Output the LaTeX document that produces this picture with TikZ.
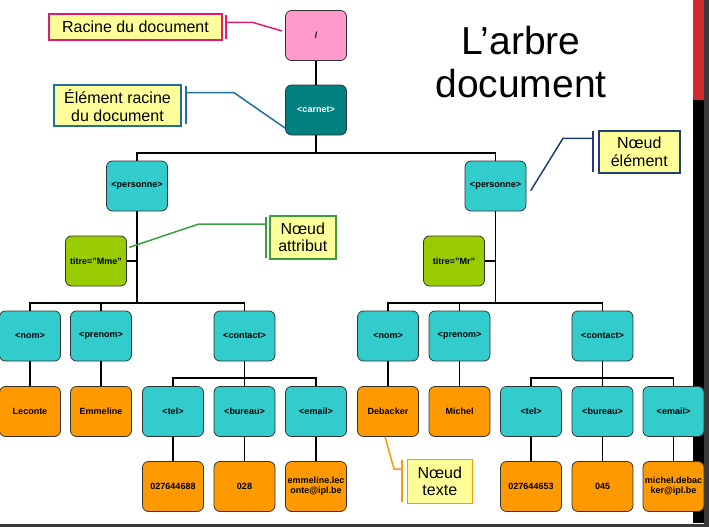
\documentclass[tikz,border=0pt]{standalone}
\usepackage{fontspec}
\setmainfont{Liberation Sans}
\definecolor{pinkfill}{HTML}{FF99CC}
\definecolor{tealfill}{HTML}{008080}
\definecolor{cyanfill}{HTML}{33CCCC}
\definecolor{greenfill}{HTML}{99CC00}
\definecolor{orangefill}{HTML}{FF9900}
\definecolor{yelfill}{HTML}{FFFF99}
\definecolor{cpink}{HTML}{E8196A}
\definecolor{cblue}{HTML}{1F6FA3}
\definecolor{cnavy}{HTML}{1F3D70}
\definecolor{cgreen}{HTML}{3A9F3A}
\definecolor{redbar}{HTML}{D32A2F}
\definecolor{edgec}{HTML}{333333}
\definecolor{frame}{HTML}{3A3A3A}
\begin{document}
\begin{tikzpicture}[x=1pt,y=-1pt,
  tnode/.style={draw=edgec, line width=0.8pt, rounded corners=6pt, minimum width=61pt, minimum height=50pt, inner sep=0pt, align=center, font=\bfseries\fontsize{9}{10}\selectfont},
  elem/.style={tnode, fill=cyanfill},
  attr/.style={tnode, fill=greenfill},
  txt/.style={tnode, fill=orangefill},
  tree/.style={line width=1.7pt, black},
  callout/.style={fill=yelfill, line width=1.6pt, inner sep=0pt, align=center, font=\fontsize{16}{17.5}\selectfont},
  cline/.style={line width=1.5pt}]
\useasboundingbox (0,0) rectangle (709,527);
% frame bars
\fill[redbar] (693,0) rectangle (704,100);
\fill[black] (693,100) rectangle (704,523);
\fill[frame] (704,0) rectangle (709,527);
\fill[frame] (0,524) rectangle (709,527);
% title
\node[align=center, inner sep=0pt, font=\fontsize{39}{43}\selectfont] (title) at (521,62.5) {L’arbre\\document};
% tree nodes
\node[tnode, fill=pinkfill] (root) at (316,35.5) {/};
\node[tnode, fill=tealfill, text=white] (carnet) at (316,110) {<carnet>};
\node[elem] (p1) at (137,186) {<personne>};
\node[elem] (p2) at (495.5,186) {<personne>};
\node[attr] (t1) at (96,261) {titre="Mme"};
\node[attr] (t2) at (454,261) {titre="Mr"};
\node[elem] (nom1) at (30,336) {<nom>};
\node[elem] (pre1) at (101,336) {<prenom>};
\node[elem] (con1) at (244.5,336) {<contact>};
\node[elem] (nom2) at (388,336) {<nom>};
\node[elem] (pre2) at (459.5,336) {<prenom>};
\node[elem] (con2) at (602.5,336) {<contact>};
\node[txt] (lec) at (30,411.5) {Leconte};
\node[txt] (emm) at (101,411.5) {Emmeline};
\node[elem] (tel1) at (173,411.5) {<tel>};
\node[elem] (bur1) at (244.5,411.5) {<bureau>};
\node[elem] (em1) at (316,411.5) {<email>};
\node[txt] (deb) at (388,411.5) {Debacker};
\node[txt] (mic) at (459.5,411.5) {Michel};
\node[elem] (tel2) at (531,411.5) {<tel>};
\node[elem] (bur2) at (602.5,411.5) {<bureau>};
\node[elem] (em2) at (673.5,411.5) {<email>};
\node[txt] (vtel1) at (173,486.5) {027644688};
\node[txt] (vbur1) at (244.5,486.5) {028};
\node[txt] (vem1) at (316,486.5) {emmeline.lec\\onte@ipl.be};
\node[txt] (vtel2) at (531,486.5) {027644653};
\node[txt] (vbur2) at (602.5,486.5) {045};
\node[txt] (vem2) at (673.5,486.5) {michel.debac\\ker@ipl.be};
% connectors
\coordinate (b0) at (316,152.7);
\coordinate (b1) at (137,303);
\coordinate (b2) at (495.5,303);
\coordinate (c1) at (244.5,378);
\coordinate (c2) at (602.5,378);
\draw[tree] (root) -- (carnet);
\draw[tree] (carnet) -- (b0);
\draw[tree] (b0) -| (p1.north);
\draw[tree] (b0) -| (p2.north);
\draw[tree] (p1) -- (b1);
\draw[tree] (p2) -- (b2);
\draw[tree] (t1.east) -- (t1.east -| p1);
\draw[tree] (t2.east) -- (t2.east -| p2);
\draw[tree] (b1) -| (nom1.north);
\draw[tree] (b1) -| (pre1.north);
\draw[tree] (b1) -| (con1.north);
\draw[tree] (b2) -| (nom2.north);
\draw[tree] (b2) -| (pre2.north);
\draw[tree] (b2) -| (con2.north);
\draw[tree] (nom1) -- (lec);
\draw[tree] (pre1) -- (emm);
\draw[tree] (nom2) -- (deb);
\draw[tree] (pre2) -- (mic);
\draw[tree] (con1) -- (c1);
\draw[tree] (con2) -- (c2);
\draw[tree] (c1) -| (tel1.north);
\draw[tree] (c1) -- (bur1.north);
\draw[tree] (c1) -| (em1.north);
\draw[tree] (c2) -| (tel2.north);
\draw[tree] (c2) -- (bur2.north);
\draw[tree] (c2) -| (em2.north);
\draw[tree] (tel1) -- (vtel1);
\draw[tree] (bur1) -- (vbur1);
\draw[tree] (em1) -- (vem1);
\draw[tree] (tel2) -- (vtel2);
\draw[tree] (bur2) -- (vbur2);
\draw[tree] (em2) -- (vem2);
% callouts
\node[callout, draw=cpink, minimum width=173pt, minimum height=26pt] (k1) at (135.5,27) {Racine du document};
\node[callout, draw=cblue, minimum width=127pt, minimum height=41pt] (k2) at (117.5,105.5) {Élément racine\\du document};
\node[callout, draw=cnavy, minimum width=81pt, minimum height=42pt] (k3) at (639.3,151.7) {Nœud\\élément};
\node[callout, draw=cgreen, minimum width=66pt, minimum height=43pt] (k4) at (302.8,237.5) {Nœud\\attribut};
\node[callout, draw=orangefill, minimum width=65pt, minimum height=44pt] (k5) at (439.8,481.3) {Nœud\\texte};
% callout bars and leaders
\coordinate (e1) at (282,31);
\coordinate (e2) at (285,128);
\coordinate (e3) at (530.7,190.7);
\coordinate (e4) at (129.3,247.3);
\coordinate (e5) at (385,436.7);
\draw[cpink, line width=1.8pt] (226,15) -- (226,39);
\draw[cpink, cline] (226,22.5) -- (253,22.5) -- (e1);
\draw[cblue, line width=1.8pt] (185.7,86) -- (185.7,124);
\draw[cblue, cline] (185.7,92.7) -- (234,92.7) -- (e2);
\draw[cnavy, line width=1.8pt] (593.3,130.7) -- (593.3,172);
\draw[cnavy, cline] (593.3,138.3) -- (563,138.3) -- (e3);
\draw[cgreen, line width=1.8pt] (266,216.7) -- (266,258.3);
\draw[cgreen, cline] (266,224) -- (199,224) -- (e4);
\draw[orangefill, line width=1.8pt] (402.3,460) -- (402.3,502);
\draw[orangefill, cline] (402.3,469) -- (394,469) -- (e5);
\end{tikzpicture}
\end{document}
